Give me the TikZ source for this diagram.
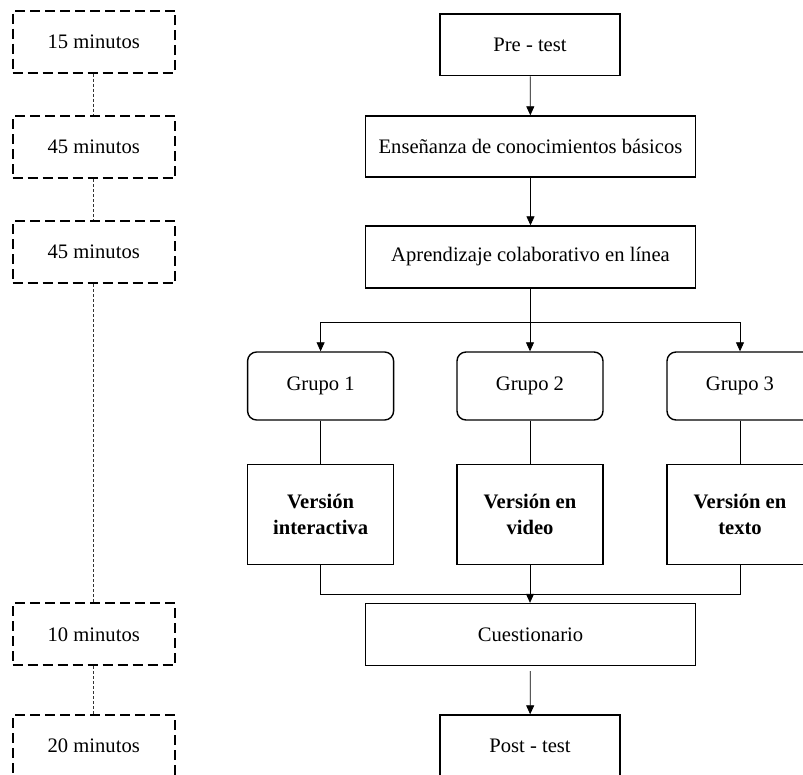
\documentclass[tikz,border=0pt]{standalone}
\usepackage{fontspec}
\setmainfont{Liberation Serif}
\usetikzlibrary{arrows.meta}
\begin{document}
\begin{tikzpicture}[x=1pt,y=-1pt,
  base/.style={draw=black,line width=1.4pt,inner sep=0pt,font=\fontsize{20.6}{26}\selectfont,align=center},
  rbox/.style={base,minimum height=62pt},
  tbox/.style={base,dash pattern=on 10pt off 5pt,line width=2pt,minimum width=162.5pt,minimum height=62pt},
  gbox/.style={base,rounded corners=9pt,minimum width=146pt,minimum height=68pt},
  vbox/.style={base,minimum width=146pt,minimum height=100pt,font=\fontsize{20.6}{26}\selectfont\bfseries},
  dots/.style={draw=black!80,line width=0.7pt,dash pattern=on 3pt off 2pt},
  conn/.style={draw=black,line width=0.8pt},
  arr/.style={conn,-{Triangle[length=9pt,width=8pt]}}]
\useasboundingbox (0,0) rectangle (803,774);
% time boxes
\node[tbox] (t1) at (93.75,41.5) {15 minutos};
\node[tbox] (t2) at (93.75,147) {45 minutos};
\node[tbox] (t3) at (93.75,252) {45 minutos};
\node[tbox] (t4) at (93.75,634.3) {10 minutos};
\node[tbox] (t5) at (93.75,746) {20 minutos};
\draw[dots] (t1) -- (t2);
\draw[dots] (t2) -- (t3);
\draw[dots] (t3) -- (t4);
\draw[dots] (t4) -- (t5);
% main flow
\node[rbox,minimum width=180pt,minimum height=61.7pt] (pre) at (530,44.9) {Pre - test};
\node[rbox,minimum width=329.6pt,minimum height=61pt] (ens) at (530.5,146.5) {Enseñanza de conocimientos básicos};
\node[rbox,minimum width=329.6pt] (apr) at (530.5,257) {Aprendizaje colaborativo en línea};
\node[gbox] (g1) at (320.6,386) {Grupo 1};
\node[gbox] (g2) at (530,386) {Grupo 2};
\node[gbox] (g3) at (740,386) {Grupo 3};
\node[vbox] (v1) at (320.6,514.4) {Versión\\interactiva};
\node[vbox] (v2) at (530,514.4) {Versión en\\video};
\node[vbox] (v3) at (740,514.4) {Versión en\\texto};
\node[rbox,minimum width=329.6pt] (cue) at (530.5,634.5) {Cuestionario};
\node[rbox,minimum width=180pt] (post) at (530,746) {Post - test};
\coordinate (split) at (530,322.7);
\coordinate (merge) at (530,594.2);
\draw[arr] (pre) -- (ens);
\draw[arr] (ens) -- (apr);
\draw[conn] (apr.south -| split) -- (split);
\draw[arr] (split) -| (g1.north);
\draw[arr] (split) -- (g2.north);
\draw[arr] (split) -| (g3.north);
\draw[conn] (g1) -- (v1);
\draw[conn] (g2) -- (v2);
\draw[conn] (g3) -- (v3);
\draw[conn] (v1.south) |- (merge);
\draw[conn] (v3.south) |- (merge);
\draw[arr] (v2.south) -- (cue.north -| v2.south);
\draw[arr,shorten <=5pt] (cue) -- (post);
\end{tikzpicture}
\end{document}
